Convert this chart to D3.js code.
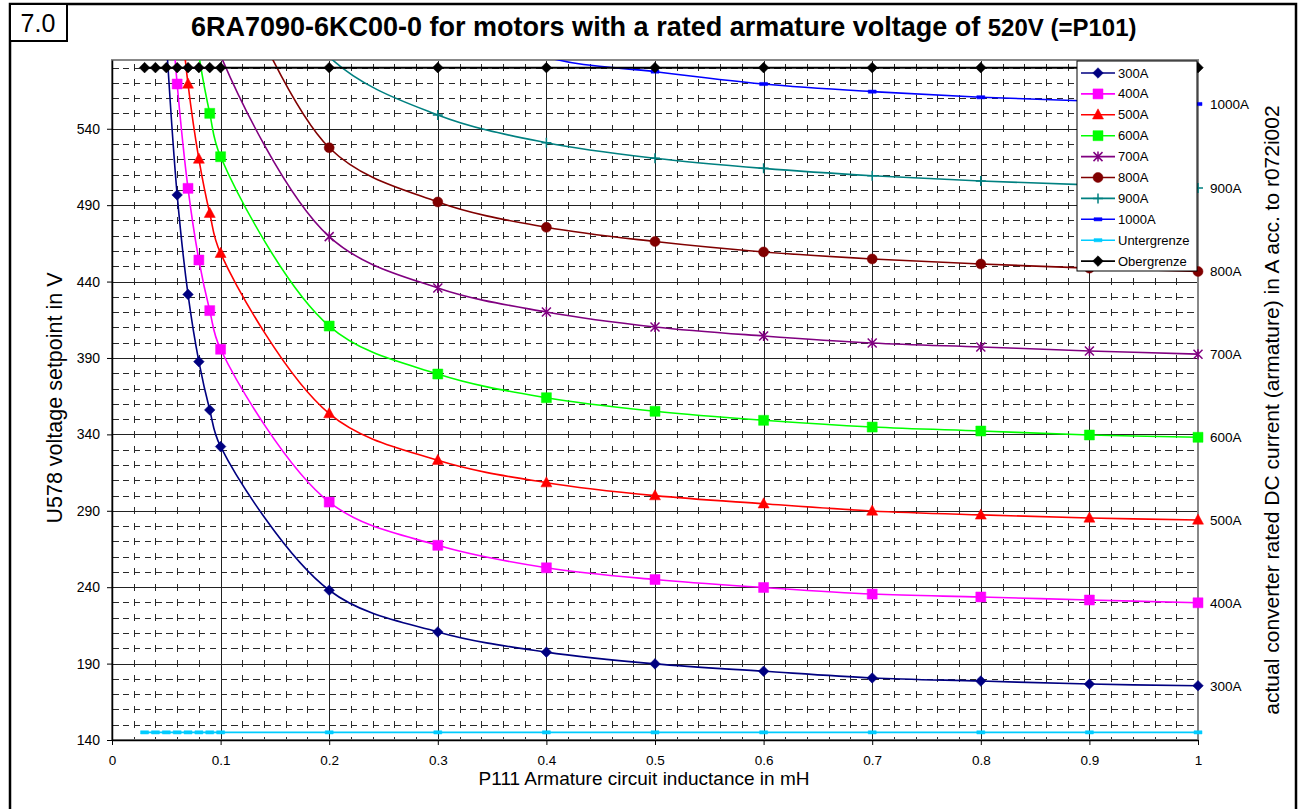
<!DOCTYPE html>
<html><head><meta charset="utf-8">
<script src="https://cdn.jsdelivr.net/npm/d3@7"></script>
<style>
html,body{margin:0;padding:0;background:#fff;}
svg{display:block;font-family:"Liberation Sans",Arial,sans-serif;}
</style></head>
<body>
<svg id="chart" width="1302" height="809"></svg>
<script>
// ---- data ----
const inductance = [0.03,0.04,0.05,0.06,0.07,0.08,0.09,0.1,0.2,0.3,0.4,0.5,0.6,0.7,0.8,0.9,1.0];
const s300A  = [null,null,598,496.7,431.6,387.6,356,332,238,210.7,197.5,189.8,185,180.6,178.6,176.6,175.5];
const s400A  = [null,null,665,569.3,501,454.1,421,395.7,295.7,267.4,252.7,245,239.8,235.5,233.6,231.6,229.8];
const s500A  = [null,null,null,640,569.3,520.2,484.7,458.5,353.6,323,308.4,299.9,294.6,289.9,287.3,285.3,284];
const s600A  = [null,null,null,null,640,588,550.1,521.7,410.9,379.5,364,355.1,349.2,344.8,342.2,339.6,338.1];
const s700A  = [null,null,null,null,null,null,615,588,469.4,435.8,420.1,410.3,404.4,399.8,397.2,394.6,392.5];
const s800A  = [null,null,null,null,null,null,null,660,527.6,492.1,475.5,466.2,459.4,454.8,451.5,448.8,446.6];
const s900A  = [null,null,null,null,null,null,null,700,587,549,530.9,520.7,514.1,509.3,505.8,503.3,501.3];
const s1000A = [null,null,null,null,null,null,null,null,null,620,587,577.4,569.3,564.3,560.6,558.2,556.2];
const untergrenze = [145,145,145,145,145,145,145,145,145,145,145,145,145,145,145,145,145];
const obergrenze  = [580,580,580,580,580,580,580,580,580,580,580,580,580,580,580,580,580];

const seriesNames  = ["300A","400A","500A","600A","700A","800A","900A","1000A","Untergrenze","Obergrenze"];
const seriesValues = [s300A,s400A,s500A,s600A,s700A,s800A,s900A,s1000A,untergrenze,obergrenze];
const seriesColors = ["#000080","#FF00FF","#FF0000","#00FF00","#800080","#800000","#008080","#0000FF","#00CCFF","#000000"];
const seriesMarkers= ["diamond","square","triangle","square","star","circle","plus","dash","dash","diamond"];
const rightLabels  = ["300A","400A","500A","600A","700A","800A","900A","1000A"];

const xTicks = [0,0.1,0.2,0.3,0.4,0.5,0.6,0.7,0.8,0.9,1];
const yTicks = [140,190,240,290,340,390,440,490,540];

const titleMain = "6RA7090-6KC00-0 for motors with a rated armature voltage of  ";
const titleTail = "520V (=P101)";
const xTitle = "P111 Armature circuit inductance in mH";
const yTitle = "U578 voltage setpoint in V";
const y2Title = "actual converter rated DC current (armature) in A acc. to r072i002";

// ---- layout ----
const L = 112, R = 1198, T = 60, B = 740;
const svg = d3.select("#chart");
const x = d3.scaleLinear().domain([0,1]).range([L,R]);
const y = d3.scaleLinear().domain([140,585]).range([B,T]);

// outer frame
svg.append("rect").attr("x",10).attr("y",4).attr("width",1286).attr("height",820)
  .attr("fill","none").attr("stroke","#000").attr("stroke-width",2.5);
svg.append("rect").attr("x",10).attr("y",4).attr("width",57).attr("height",37)
  .attr("fill","#fff").attr("stroke","#000").attr("stroke-width",2);
svg.append("text").attr("x",38).attr("y",32).attr("text-anchor","middle")
  .attr("font-size",25).text("7.0");

// title
const tt = svg.append("text").attr("x",191).attr("y",36).attr("font-weight","bold").attr("font-size",27);
tt.append("tspan").text(titleMain);
tt.append("tspan").attr("font-size",24).text(titleTail);

// clip
svg.append("clipPath").attr("id","clip").append("rect")
  .attr("x",L).attr("y",T).attr("width",R-L).attr("height",B-T);

// grid
const grid = svg.append("g").attr("shape-rendering","crispEdges");
const yMinor = d3.range(150,585,10).filter(v => (v-140)%50 !== 0);
const xMinor = d3.range(1,50).map(i => i*0.02).filter(v => Math.abs(v*10-Math.round(v*10))>1e-6);
grid.selectAll(".hm").data(yMinor).join("line")
  .attr("x1",L).attr("x2",R).attr("y1",d=>Math.round(y(d))+0.5).attr("y2",d=>Math.round(y(d))+0.5)
  .attr("stroke","#2a2a2a").attr("stroke-width",1).attr("stroke-dasharray","6.5,4.36");
grid.selectAll(".vm").data(xMinor).join("line")
  .attr("y1",B).attr("y2",T).attr("x1",d=>Math.round(x(d))+0.5).attr("x2",d=>Math.round(x(d))+0.5)
  .attr("stroke","#2a2a2a").attr("stroke-width",1).attr("stroke-dasharray","7,8.28").attr("stroke-dashoffset",3.5);
grid.selectAll(".hM").data(yTicks.slice(1)).join("line")
  .attr("x1",L).attr("x2",R).attr("y1",d=>Math.round(y(d))+0.5).attr("y2",d=>Math.round(y(d))+0.5)
  .attr("stroke","#222").attr("stroke-width",1.2);
grid.selectAll(".vM").data(xTicks.slice(1,-1)).join("line")
  .attr("y1",B).attr("y2",T).attr("x1",d=>Math.round(x(d))+0.5).attr("x2",d=>Math.round(x(d))+0.5)
  .attr("stroke","#222").attr("stroke-width",1.2);

// plot border (grey)
svg.append("rect").attr("x",L).attr("y",T).attr("width",R-L).attr("height",B-T)
  .attr("fill","none").attr("stroke","#888").attr("stroke-width",2);

// axes
const yAxis = svg.append("g").attr("transform",`translate(${L},0)`)
  .call(d3.axisLeft(y).tickValues(yTicks).tickSize(5).tickPadding(7).tickSizeOuter(0));
const xAxis = svg.append("g").attr("transform",`translate(0,${B})`)
  .call(d3.axisBottom(x).tickValues(xTicks).tickSize(5).tickPadding(10).tickSizeOuter(0)
        .tickFormat(d => d===0 ? "0" : d===1 ? "1" : d3.format(".1f")(d)));
[yAxis,xAxis].forEach(a=>{
  a.attr("font-family","Liberation Sans, Arial, sans-serif");
  a.select(".domain").attr("stroke","#000").attr("stroke-width",1.5);
  a.selectAll(".tick line").attr("stroke","#000");
});
yAxis.attr("font-size",14).selectAll("text").attr("font-size",14).attr("fill","#000");
xAxis.attr("font-size",13.5).selectAll("text").attr("font-size",13.5).attr("fill","#000");

// series
const plot = svg.append("g").attr("clip-path","url(#clip)");
const line = d3.line().defined(d=>d[1]!==null).x(d=>x(d[0])).y(d=>y(d[1]))
  .curve(d3.curveCatmullRom.alpha(0.5));

function markerPath(type){
  switch(type){
    case "diamond": return "M0,-5.3L5.3,0L0,5.3L-5.3,0Z";
    case "square": return "M-5,-5H5V5H-5Z";
    case "triangle": return "M0,-6L5.5,4.2L-5.5,4.2Z";
    case "circle": return "M5,0A5,5 0 1,1 -5,0A5,5 0 1,1 5,0Z";
    case "star": return "M-4.5,-4.5L4.5,4.5M-4.5,4.5L4.5,-4.5M0,-5L0,5";
    case "plus": return "M-5,0L5,0M0,-5L0,5";
    case "dash": return "M-4,-1.6H4V1.6H-4Z";
  }
}
function drawMarker(g, type, color){
  const stroked = (type==="star"||type==="plus");
  g.append("path").attr("d",markerPath(type))
    .attr("fill",stroked?"none":color)
    .attr("stroke",color).attr("stroke-width",stroked?1.5:0.5);
}

seriesValues.forEach((vals,i)=>{
  const pts = inductance.map((xv,j)=>[xv,vals[j]]);
  plot.append("path").datum(pts).attr("d",line).attr("fill","none")
    .attr("stroke",seriesColors[i]).attr("stroke-width",i===9?2:1.6);
});
const markerLayer = svg.append("g");
seriesValues.forEach((vals,i)=>{
  inductance.forEach((xv,j)=>{
    const v = vals[j];
    if(v===null || v>585 || v<140) return;
    const g = markerLayer.append("g").attr("transform",`translate(${x(xv)},${y(v)})`);
    drawMarker(g, seriesMarkers[i], seriesColors[i]);
  });
});

// right-side labels at last values
rightLabels.forEach((lab,i)=>{
  const vals = seriesValues[i];
  svg.append("text").attr("x",R+12).attr("y",y(vals[vals.length-1])+5)
    .attr("font-size",13.5).text(lab);
});

// legend
const lg = svg.append("g");
lg.append("rect").attr("x",1077).attr("y",61).attr("width",120).attr("height",210)
  .attr("fill","#fff").attr("stroke","#000").attr("stroke-width",1);
seriesNames.forEach((n,i)=>{
  const yy = 73 + i*20.9;
  lg.append("line").attr("x1",1081).attr("x2",1115).attr("y1",yy).attr("y2",yy)
    .attr("stroke",seriesColors[i]).attr("stroke-width",1.6);
  const g = lg.append("g").attr("transform",`translate(1098,${yy})`);
  drawMarker(g, seriesMarkers[i], seriesColors[i]);
  lg.append("text").attr("x",1118).attr("y",yy+4.5).attr("font-size",13).text(n);
});

// axis titles
svg.append("text").attr("x",644).attr("y",785).attr("text-anchor","middle")
  .attr("font-size",19).text(xTitle);
svg.append("text").attr("transform","translate(62,398) rotate(-90)").attr("text-anchor","middle")
  .attr("font-size",21.5).text(yTitle);
svg.append("text").attr("transform","translate(1279,410) rotate(-90)").attr("text-anchor","middle")
  .attr("font-size",21).text(y2Title);
</script>
</body></html>
